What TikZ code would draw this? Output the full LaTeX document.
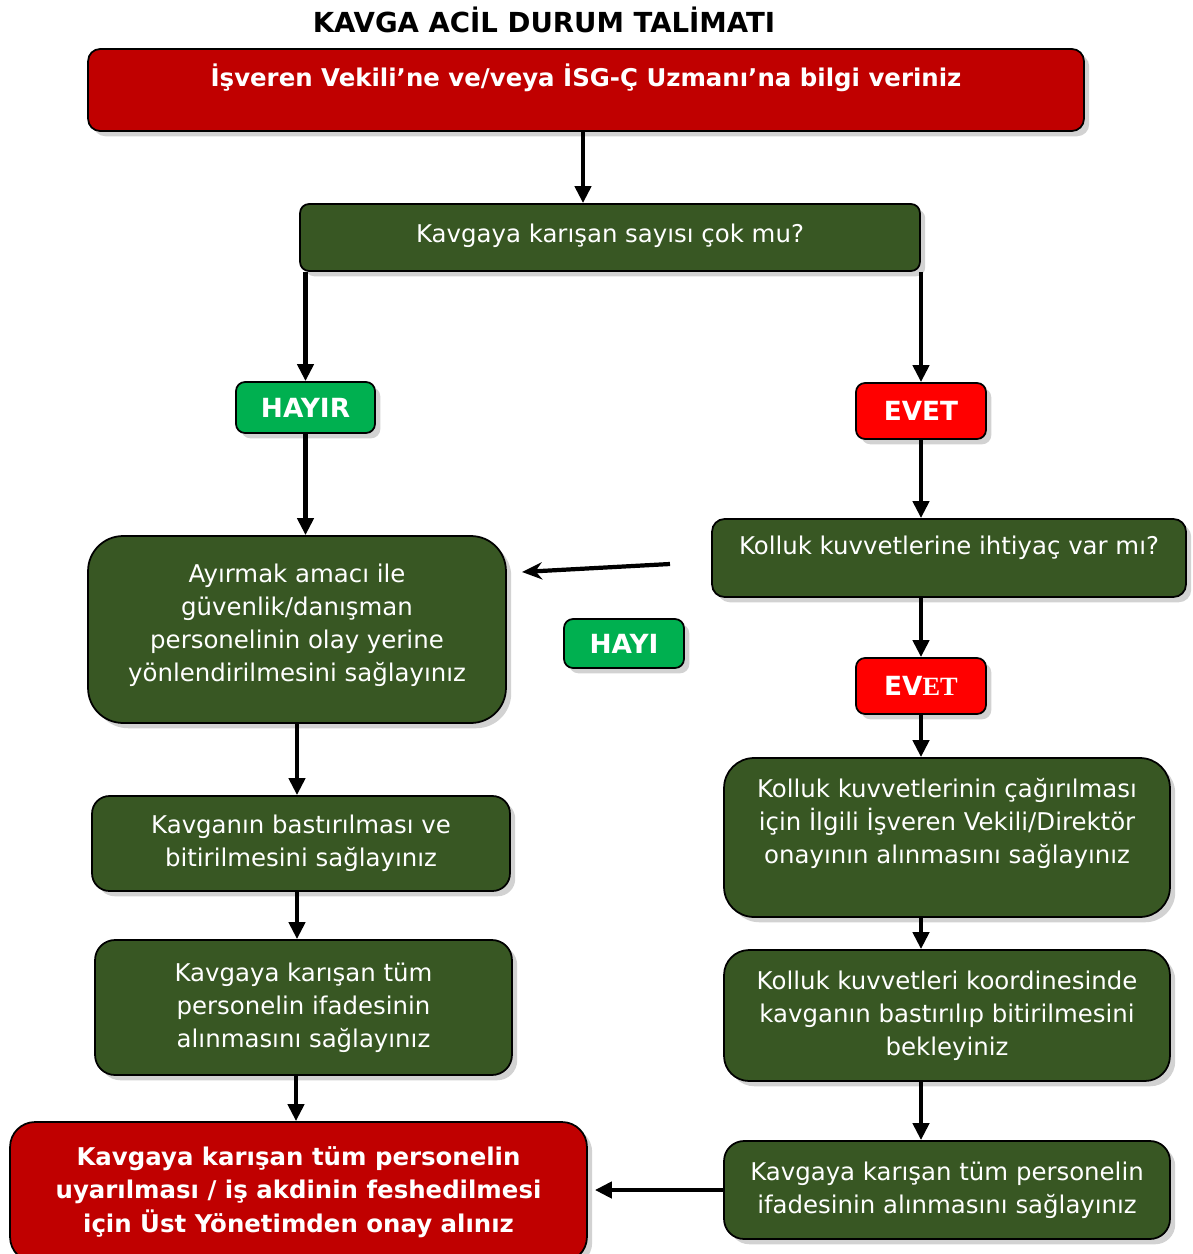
\documentclass[tikz,border=0pt]{standalone}
\usepackage{fontspec}
\setmainfont{DejaVu Sans}
\newfontfamily\evetserif{Liberation Serif}
\usetikzlibrary{arrows.meta,shadows}
\definecolor{boxgreen}{RGB}{56,87,35}
\definecolor{boxred}{RGB}{192,0,0}
\definecolor{yesred}{RGB}{255,0,0}
\definecolor{nogreen}{RGB}{0,176,80}
\tikzset{
  base/.style={draw=black,line width=1pt,text=white,align=center,inner sep=0pt,
    drop shadow={shadow xshift=3pt,shadow yshift=-3pt,opacity=0.35}},
  gbox/.style={base,fill=boxgreen,font=\fontsize{13.9}{18.9}\selectfont},   % green step
  rbox/.style={base,fill=boxred,font=\bfseries\fontsize{13.9}{18.9}\selectfont},% red step
  yesbox/.style={base,fill=yesred,font=\bfseries\fontsize{15}{18}\selectfont,
    minimum width=2.6cm,minimum height=1.12cm,rounded corners=0.18cm},
  nobox/.style={base,fill=nogreen,font=\bfseries\fontsize{15}{18}\selectfont,
    rounded corners=0.18cm},
  arr/.style={line width=2.4pt,-{Triangle[length=3.4mm,width=3.2mm]}},
  farr/.style={line width=2.4pt,-{Stealth[length=4mm,width=3.4mm]}},
}
\begin{document}
\begin{tikzpicture}[x=0.02cm,y=-0.02cm]
  \useasboundingbox[fill=white] (0,0) rectangle (1193,1254);
  \node[font=\bfseries\fontsize{15.7}{18}\selectfont] (title) at (544,20) {KAVGA ACİL DURUM TALİMATI};
  % top and question
  \node[rbox,minimum width=19.92cm,minimum height=1.64cm,rounded corners=0.24cm,
    text height=0.3cm,text depth=0.45cm] (top) at (586,90)
    {İşveren Vekili’ne ve/veya İSG-Ç Uzmanı’na bilgi veriniz};
  \node[gbox,minimum width=12.4cm,minimum height=1.34cm,rounded corners=0.18cm,
    text height=0.4cm,text depth=0.2cm] (q) at (610,237.5) {Kavgaya karışan sayısı çok mu?};
  \node[nobox,minimum width=2.78cm,minimum height=1.02cm] (hayir) at (305.5,407.5) {HAYIR};
  \node[yesbox] (evet) at (921,411) {EVET};
  % left branch
  \node[gbox,minimum width=8.36cm,minimum height=3.74cm,rounded corners=0.7cm] (ayir) at (297,629.5)
    {Ayırmak amacı ile\\güvenlik/danışman\\personelinin olay yerine\\yönlendirilmesini sağlayınız\\[-0.39cm]};
  \node[gbox,minimum width=8.36cm,minimum height=1.9cm,rounded corners=0.35cm] (bastir) at (301,843.5)
    {Kavganın bastırılması ve\\bitirilmesini sağlayınız};
  \node[gbox,minimum width=8.34cm,minimum height=2.7cm,rounded corners=0.4cm] (ifade) at (303.5,1007.5)
    {Kavgaya karışan tüm\\personelin ifadesinin\\alınmasını sağlayınız};
  \node[rbox,minimum width=11.54cm,minimum height=2.8cm,rounded corners=0.5cm] (onay) at (298.5,1192)
    {Kavgaya karışan tüm personelin\\uyarılması / iş akdinin feshedilmesi\\için Üst Yönetimden onay alınız};
  % right branch
  \node[gbox,minimum width=9.48cm,minimum height=1.56cm,rounded corners=0.25cm,
    text height=0.35cm,text depth=0.51cm] (kolluk) at (949,558) {Kolluk kuvvetlerine ihtiyaç var mı?};
  \node[nobox,minimum width=2.4cm,minimum height=0.98cm] (hayi) at (624,643.5) {HAYI};
  \node[yesbox] (evet2) at (921,686) {EV{\evetserif ET}};
  \node[gbox,minimum width=8.92cm,minimum height=3.18cm,rounded corners=0.6cm] (cagir) at (947,837.5)
    {Kolluk kuvvetlerinin çağırılması\\için İlgili İşveren Vekili/Direktör\\onayının alınmasını sağlayınız\\};
  \node[gbox,minimum width=8.92cm,minimum height=2.62cm,rounded corners=0.5cm] (bekle) at (947,1015.5)
    {Kolluk kuvvetleri koordinesinde\\kavganın bastırılıp bitirilmesini\\bekleyiniz};
  \node[gbox,minimum width=8.92cm,minimum height=1.96cm,rounded corners=0.4cm] (ifade2) at (947,1190)
    {Kavgaya karışan tüm personelin\\ifadesinin alınmasını sağlayınız};
  \coordinate (hayifrom) at (670,564);
  \coordinate (hayito) at (522,572);
  % connectors
  \draw[arr] (top.south -| 583,0) -- (q.north -| 583,0);
  \draw[arr] (q.south -| hayir) -- (hayir.north);
  \draw[arr] (q.south -| evet) -- (evet.north);
  \draw[arr] (hayir.south) -- (ayir.north -| hayir);
  \draw[arr] (evet.south) -- (kolluk.north -| evet);
  \draw[arr] (kolluk.south -| evet2) -- (evet2.north);
  \draw[arr] (evet2.south) -- (cagir.north -| evet2);
  \draw[arr] (ayir.south) -- (bastir.north -| ayir);
  \draw[arr] (bastir.south -| ayir) -- (ifade.north -| ayir);
  \draw[arr] (ifade.south -| 296,0) -- (onay.north -| 296,0);
  \draw[arr] (cagir.south -| evet2) -- (bekle.north -| evet2);
  \draw[arr] (bekle.south -| evet2) -- (ifade2.north -| evet2);
  \draw[arr,shorten >=4pt] (ifade2.west) -- (ifade2.west -| onay.east);
  \draw[farr] (hayifrom) -- (hayito);
\end{tikzpicture}
\end{document}
